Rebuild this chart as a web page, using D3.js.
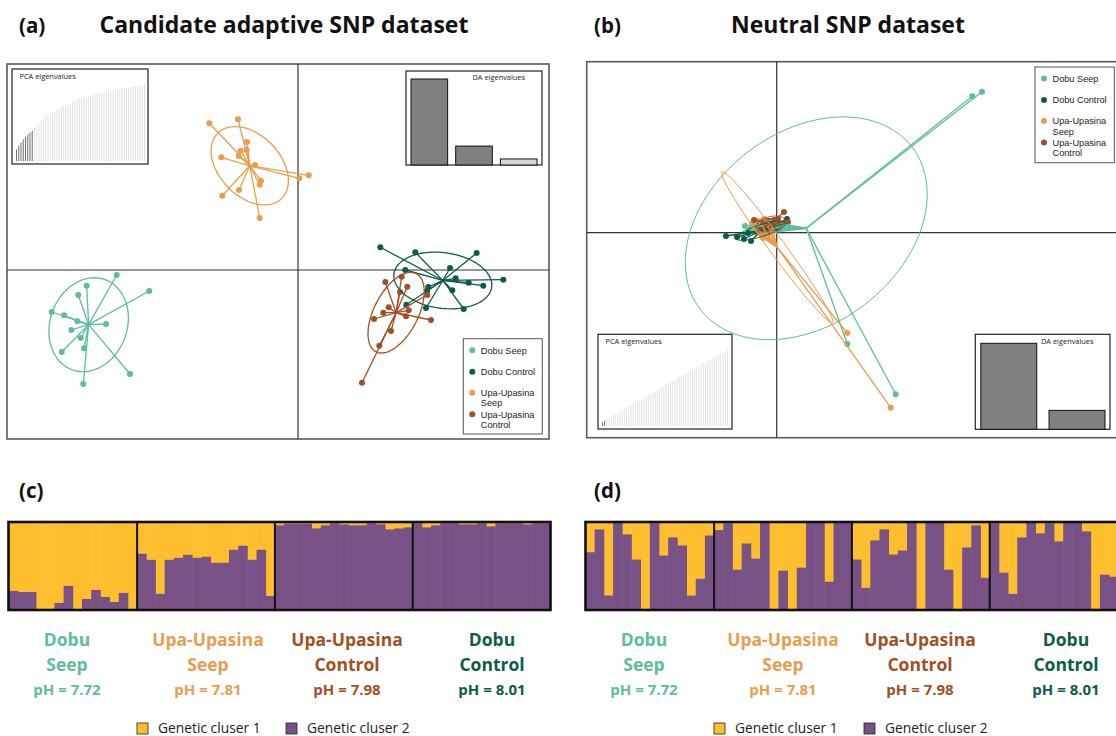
<!DOCTYPE html>
<html><head><meta charset="utf-8">
<script src="https://cdn.jsdelivr.net/npm/d3@7"></script>
<style>
body{margin:0;background:#fff;}
svg{display:block;font-family:'Open Sans',sans-serif;}
</style>
</head><body>
<svg id="fig" width="1116" height="736"></svg>
<script>
// ---- populations ----
const groupNames = ["Dobu Seep", "Dobu Control", "Upa-Upasina Seep", "Upa-Upasina Control"];
const groupColors = ["#5dbd9d", "#0d5c48", "#e99d4f", "#a24f23"];
const legendLines = [["Dobu Seep"], ["Dobu Control"], ["Upa-Upasina", "Seep"], ["Upa-Upasina", "Control"]];

// ---- DAPC scores (LD1, LD2), candidate adaptive SNPs ----
const adaptiveDobuSeep = [[-18.13,-0.50],[-21.13,-1.57],[-21.97,-2.50],[-14.87,-2.10],[-24.63,-4.20],[-23.40,-4.53],[-22.07,-5.13],[-19.20,-5.40],[-22.67,-6.00],[-21.73,-6.80],[-23.63,-8.20],[-21.40,-7.83],[-16.80,-10.40],[-21.47,-11.40]];
const adaptiveDobuControl = [[8.23,2.27],[11.73,1.77],[17.87,1.70],[10.73,0.00],[15.20,0.20],[15.77,-0.83],[17.07,-1.27],[20.53,-0.97],[18.53,-1.57],[13.03,-1.70],[15.43,-2.03],[12.90,-2.10],[10.83,-3.47],[12.80,-3.80],[16.57,-3.90]];
const adaptiveUpaSeep = [[-8.87,14.67],[-6.00,15.07],[-5.10,12.80],[-5.73,11.93],[-5.13,12.00],[-5.93,11.40],[-7.67,11.27],[-4.30,10.50],[-3.70,8.93],[-3.83,8.53],[-5.90,8.00],[-7.57,7.43],[-3.83,5.20],[0.13,9.17],[1.07,9.47]];
const adaptiveUpaControl = [[8.73,-1.20],[10.37,-0.67],[10.93,-1.67],[10.20,-2.20],[12.93,-2.50],[9.07,-3.73],[11.07,-4.03],[8.53,-4.27],[10.80,-4.63],[7.60,-4.90],[13.30,-5.00],[9.30,-6.10],[8.13,-7.57],[6.40,-11.27]];

// ---- DAPC scores (LD1, LD2), neutral SNPs ----
const neutralDobuSeep = [[19.56,13.64],[20.53,14.10],[7.06,-11.13],[11.90,-16.16],[-3.17,0.67],[-2.67,0.27],[-2.47,0.87],[-2.07,0.07],[-1.87,1.07],[-1.57,0.37],[-1.27,0.67],[-1.07,-0.03],[-0.87,1.17],[-0.67,0.57]];
const neutralDobuControl = [[-5.07,-0.33],[-3.97,-0.43],[-3.27,-0.63],[-2.57,-0.83],[1.03,1.37],[-2.07,0.17],[-1.67,0.57],[-1.17,-0.03],[-0.77,0.37],[-0.27,0.77],[0.23,0.27],[-1.47,-0.33],[-0.67,1.17],[0.63,0.87],[-2.87,-0.03]];
const neutralUpaSeep = [[7.06,-10.03],[11.40,-17.50],[-2.47,0.87],[-2.17,0.27],[-1.87,1.17],[-1.67,-0.13],[-1.47,0.67],[-1.37,0.17],[-1.27,1.37],[-1.07,-0.33],[-0.87,0.77],[-0.67,0.37],[-0.97,-0.03],[-0.57,1.07],[-1.37,-0.53]];
const neutralUpaControl = [[0.73,2.07],[-2.27,1.27],[-1.67,0.87],[-1.07,1.17],[-0.47,0.97],[0.13,1.37],[-1.27,0.47],[-0.67,0.67],[-0.07,0.27],[0.43,0.87],[-1.87,0.27],[-0.87,-0.03],[-0.27,1.27],[-1.47,0.97],[1.13,1.07]];

// ---- eigenvalue screeplots (relative to the largest) ----
const adaptivePcaEig = [0.15,0.20,0.24,0.28,0.31,0.34,0.37,0.39,0.43,0.46,0.49,0.52,0.55,0.58,0.60,0.62,0.635,0.65,0.665,0.68,0.695,0.71,0.72,0.735,0.75,0.765,0.78,0.79,0.80,0.81,0.82,0.83,0.84,0.85,0.86,0.865,0.87,0.88,0.885,0.89,0.90,0.905,0.91,0.92,0.925,0.93,0.935,0.94,0.945,0.95,0.955,0.96,0.97,0.975,0.98,0.985,0.99,1.0];
const adaptivePcaKept = 8;
const adaptiveDaEig = [1, 0.22, 0.07];
const adaptiveDaKept = 2;
const neutralPcaEig = [0.05,0.07,0.09,0.10,0.12,0.14,0.15,0.17,0.19,0.20,0.22,0.24,0.25,0.27,0.29,0.30,0.32,0.34,0.35,0.37,0.39,0.40,0.42,0.44,0.45,0.47,0.49,0.50,0.52,0.54,0.55,0.57,0.59,0.60,0.62,0.64,0.65,0.67,0.69,0.70,0.72,0.74,0.75,0.77,0.79,0.80,0.82,0.83,0.85,0.86,0.88,0.89,0.91,0.92,0.94,0.95,0.97,1.0];
const neutralPcaKept = 2;
const neutralDaEig = [1, 0.22];
const neutralDaKept = 2;

// ---- membership to genetic cluster 2 (cluster 1 = 1 - q) ----
const structureGroups = ["Dobu Seep", "Upa-Upasina Seep", "Upa-Upasina Control", "Dobu Control"];
const structureTitle = [["Dobu", "Seep"], ["Upa-Upasina", "Seep"], ["Upa-Upasina", "Control"], ["Dobu", "Control"]];
const structurePH = ["7.72", "7.81", "7.98", "8.01"];
const adaptiveQDobuSeep = [0.217,0.205,0.205,0,0,0.08,0.274,0,0.125,0.228,0.148,0.091,0.194,0];
const adaptiveQUpaSeep = [0.639,0.570,0.183,0.570,0.593,0.627,0.593,0.605,0.536,0.536,0.684,0.730,0.570,0.684,0.160];
const adaptiveQUpaControl = [0.962,0.981,0.981,0.981,0.927,0.962,0.985,0.973,0.962,0.962,0.985,0.973,0.916,0.927,0.939];
const adaptiveQDobuControl = [0.985,0.939,0.962,0.985,0.985,0.973,0.973,0.985,0.950,0.985,0.985,0.985,0.973,0.985,0.985];
const neutralQDobuSeep = [0.656,0.916,0.164,1.0,0.859,0.573,0,0.985,0.618,0.824,0.733,0.164,0.355,0.847];
const neutralQUpaSeep = [0.908,0.985,0.458,0.756,0.584,1.0,0,0.447,0,0.481,1.0,1.0,0.321,1.0,1.0];
const neutralQUpaControl = [0.573,0.252,0.790,0.916,0.630,0.676,1.0,0,1.0,1.0,0.458,0,0.710,0.962,0.366];
const neutralQDobuControl = [0.985,0.424,0.183,0.824,1.0,0.870,0.985,0.779,1.0,1.0,0.893,0,0.401,0.378,0.40];
const clusterNames = ["Genetic cluser 1", "Genetic cluser 2"];
const clusterColors = ["#fdbf2e", "#785186"];

const structureColors = structureGroups.map(g => groupColors[groupNames.indexOf(g)]);

const svg = d3.select("#fig");

// ---------- headings ----------
function heading(x, y, text, size, anchor) {
  svg.append("text").attr("x", x).attr("y", y).attr("font-size", size)
    .attr("font-weight", 700).attr("text-anchor", anchor || "start").attr("fill", "#111").text(text);
}
heading(19, 33, "(a)", 20.5);
heading(284, 33, "Candidate adaptive SNP dataset", 23, "middle");
heading(594, 33, "(b)", 20.5);
heading(848, 33, "Neutral SNP dataset", 23, "middle");
heading(19, 498, "(c)", 20.5);
heading(594, 498, "(d)", 20.5);

// ---------- covariance ellipse (1.5 sd) ----------
function covEllipse(pts, k) {
  const n = pts.length;
  const mx = d3.mean(pts, d => d[0]), my = d3.mean(pts, d => d[1]);
  let sxx = 0, syy = 0, sxy = 0;
  pts.forEach(([x, y]) => { sxx += (x - mx) ** 2; syy += (y - my) ** 2; sxy += (x - mx) * (y - my); });
  sxx /= n; syy /= n; sxy /= n;
  const m = (sxx + syy) / 2, r = Math.sqrt(((sxx - syy) / 2) ** 2 + sxy * sxy);
  const a = k * Math.sqrt(m + r), b = k * Math.sqrt(Math.max(m - r, 0));
  const th = 0.5 * Math.atan2(2 * sxy, sxx - syy);
  return d3.range(0, 121).map(i => {
    const t = i / 120 * 2 * Math.PI;
    return [mx + a * Math.cos(t) * Math.cos(th) - b * Math.sin(t) * Math.sin(th),
            my + a * Math.cos(t) * Math.sin(th) + b * Math.sin(t) * Math.cos(th)];
  });
}

// ---------- scatter panel ----------
function scatterPanel(o) {
  const g = svg.append("g");
  const x = d3.scaleLinear().domain(o.xDomain).range([o.box[0], o.box[2]]);
  const y = d3.scaleLinear().domain(o.yDomain).range([o.box[3], o.box[1]]);

  g.append("rect").attr("x", o.box[0]).attr("y", o.box[1])
    .attr("width", o.box[2] - o.box[0]).attr("height", o.box[3] - o.box[1])
    .attr("fill", "#fff").attr("stroke", "#5a5a5a").attr("stroke-width", 1.6);
  g.append("line").attr("x1", x(0)).attr("x2", x(0)).attr("y1", o.box[1]).attr("y2", o.box[3])
    .attr("stroke", "#333").attr("stroke-width", 1.2);
  g.append("line").attr("y1", y(0)).attr("y2", y(0)).attr("x1", o.box[0]).attr("x2", o.box[2])
    .attr("stroke", "#333").attr("stroke-width", 1.2);

  // eigenvalue insets
  screeInset(g, o.pcaBox, o.pcaEig, o.pcaKept, "PCA eigenvalues", o.pcaPad, "pca", o.pcaTitle);
  screeInset(g, o.daBox, o.daEig, o.daKept, "DA eigenvalues", o.daPad, "da", o.daTitle);

  // points first, then stars from the group centroid, then the 1.5-sd ellipses
  const line = d3.line().x(d => x(d[0])).y(d => y(d[1]));
  const lP = g.append("g"), lS = g.append("g"), lE = g.append("g");
  o.series.forEach((pts, i) => {
    const col = groupColors[i];
    const cx = d3.mean(pts, d => d[0]), cy = d3.mean(pts, d => d[1]);
    lP.selectAll(null).data(pts).join("circle").attr("cx", d => x(d[0])).attr("cy", d => y(d[1]))
      .attr("r", 3).attr("fill", col);
    pts.forEach(p => {
      lS.append("line").attr("x1", x(cx)).attr("y1", y(cy)).attr("x2", x(p[0])).attr("y2", y(p[1]))
        .attr("stroke", col).attr("stroke-width", 1.3);
    });
    lE.append("path").attr("d", line(covEllipse(pts, 1.5))).attr("fill", "none")
      .attr("stroke", col).attr("stroke-width", o.ellipseWidth);
  });

  // legend
  const L = o.legendBox;
  const lg = g.append("g").attr("font-family", "'Liberation Sans', Arial, sans-serif");
  lg.append("rect").attr("x", L[0]).attr("y", L[1]).attr("width", L[2] - L[0]).attr("height", L[3] - L[1])
    .attr("fill", "#fff").attr("stroke", "#555").attr("stroke-width", 1);
  const offs = [11.6, 33, 54, 75.6];
  legendLines.forEach((lines, i) => {
    lg.append("circle").attr("cx", L[0] + 9).attr("cy", L[1] + offs[i]).attr("r", 3).attr("fill", groupColors[i]);
    const t = lg.append("text").attr("x", L[0] + 17.5).attr("y", L[1] + offs[i] + 3.3)
      .attr("font-size", 9.2).attr("fill", "#222");
    lines.forEach((s, j) => t.append("tspan").attr("x", L[0] + 17.5).attr("dy", j === 0 ? 0 : 10.4).text(s));
  });
}

function screeInset(g, box, vals, kept, title, pad, kind, tpos) {
  const ig = g.append("g");
  ig.append("rect").attr("x", box[0]).attr("y", box[1]).attr("width", box[2] - box[0]).attr("height", box[3] - box[1])
    .attr("fill", "#fff").attr("stroke", "#222").attr("stroke-width", 1.2);
  const bx = d3.scaleBand().domain(d3.range(vals.length))
    .range([box[0] + pad[3], box[2] - pad[1]]).paddingInner(kind === "pca" ? 0.55 : 0.18).paddingOuter(0);
  const by = d3.scaleLinear().domain([0, 1]).range([box[3] - pad[2], box[1] + pad[0]]);
  ig.selectAll(null).data(vals).join("rect")
    .attr("x", (d, i) => bx(i)).attr("width", bx.bandwidth())
    .attr("y", d => by(d)).attr("height", d => by(0) - by(d))
    .attr("fill", (d, i) => kind === "pca" ? (i < kept ? "#6e6e6e" : "#e2e2e2") : (i < kept ? "#808080" : "#d8d8d8"))
    .attr("stroke", kind === "pca" ? "none" : "#111").attr("stroke-width", kind === "pca" ? 0 : 1);
  ig.append("text").attr("x", tpos[0]).attr("y", tpos[1]).attr("font-size", 7.4)
    .attr("fill", "#222").text(title);
}

scatterPanel({
  box: [7, 64, 549, 439], xDomain: [-29.1, 25.1], yDomain: [-16.9, 20.6],
  series: [adaptiveDobuSeep, adaptiveDobuControl, adaptiveUpaSeep, adaptiveUpaControl],
  pcaBox: [12, 69, 148, 164], pcaEig: adaptivePcaEig, pcaKept: adaptivePcaKept, pcaPad: [15, 3, 3, 4], pcaTitle: [19.5, 78.5],
  daBox: [406, 71, 542, 165], daEig: adaptiveDaEig, daKept: adaptiveDaKept, daPad: [8, 5, 0, 5], daTitle: [472.5, 80],
  legendBox: [463.3, 338.7, 542.3, 434], ellipseWidth: 1.3
});
scatterPanel({
  box: [586.7, 61.7, 1130, 437.7], xDomain: [-19.0, 35.33], yDomain: [-20.5, 17.1],
  series: [neutralDobuSeep, neutralDobuControl, neutralUpaSeep, neutralUpaControl],
  pcaBox: [598, 334.3, 732, 429], pcaEig: neutralPcaEig, pcaKept: neutralPcaKept, pcaPad: [15, 4, 3, 4], pcaTitle: [605.5, 344],
  daBox: [975.3, 334.3, 1110, 429.3], daEig: neutralDaEig, daKept: neutralDaKept, daPad: [9, 5, 0, 5.5], daTitle: [1041, 344],
  legendBox: [1035, 67, 1114.3, 162.7], ellipseWidth: 1.0
});

// ---------- membership bar plots ----------
function structurePanel(x0, x1, q, labelX) {
  const yTop = 522, yBot = 610;
  const g = svg.append("g");
  const inds = [];
  q.forEach((arr, gi) => arr.forEach((v, k) => inds.push({ g: gi, k, q2: v })));
  const x = d3.scaleBand().domain(d3.range(inds.length)).range([x0, x1]).padding(0);
  const y = d3.scaleLinear().domain([0, 1]).range([yBot, yTop]);
  g.selectAll(null).data(inds).join("rect")
    .attr("x", (d, i) => x(i)).attr("width", x.bandwidth() + 0.4)
    .attr("y", y(1)).attr("height", y(0) - y(1)).attr("fill", clusterColors[0]);
  g.selectAll(null).data(inds).join("rect")
    .attr("x", (d, i) => x(i)).attr("width", x.bandwidth() + 0.4)
    .attr("y", d => y(d.q2)).attr("height", d => y(0) - y(d.q2)).attr("fill", clusterColors[1]);
  // separators between populations
  let start = 0;
  q.forEach((arr, gi) => {
    if (gi > 0) {
      g.append("line").attr("x1", x(start)).attr("x2", x(start)).attr("y1", yTop).attr("y2", yBot)
        .attr("stroke", "#111").attr("stroke-width", 2);
    }
    start += arr.length;
  });
  g.append("rect").attr("x", x0).attr("y", yTop).attr("width", x1 - x0).attr("height", yBot - yTop)
    .attr("fill", "none").attr("stroke", "#111").attr("stroke-width", 2.6);

  // population labels
  structureTitle.forEach((lines, i) => {
    const t = g.append("g").attr("font-weight", 700).attr("fill", structureColors[i]).attr("text-anchor", "middle");
    lines.forEach((s, j) => t.append("text").attr("x", labelX[i]).attr("y", 646 + j * 24.5).attr("font-size", 17.5).text(s));
    t.append("text").attr("x", labelX[i]).attr("y", 694.5).attr("font-size", 15).text("pH = " + structurePH[i]);
  });
}
structurePanel(8.5, 550.5, [adaptiveQDobuSeep, adaptiveQUpaSeep, adaptiveQUpaControl, adaptiveQDobuControl], [67, 208, 347, 492]);
structurePanel(585.5, 1127.5, [neutralQDobuSeep, neutralQUpaSeep, neutralQUpaControl, neutralQDobuControl], [644, 783, 920, 1066]);

// ---------- cluster legends ----------
function clusterLegend(xs) {
  clusterNames.forEach((name, i) => {
    svg.append("rect").attr("x", xs[i]).attr("y", 723).attr("width", 11).attr("height", 11)
      .attr("fill", clusterColors[i]).attr("stroke", "#222").attr("stroke-width", 0.8);
    svg.append("text").attr("x", xs[i] + 21).attr("y", 732.5).attr("font-size", 13.8).attr("fill", "#222").text(name);
  });
}
clusterLegend([137, 286]);
clusterLegend([714, 864]);
</script>
</body></html>
